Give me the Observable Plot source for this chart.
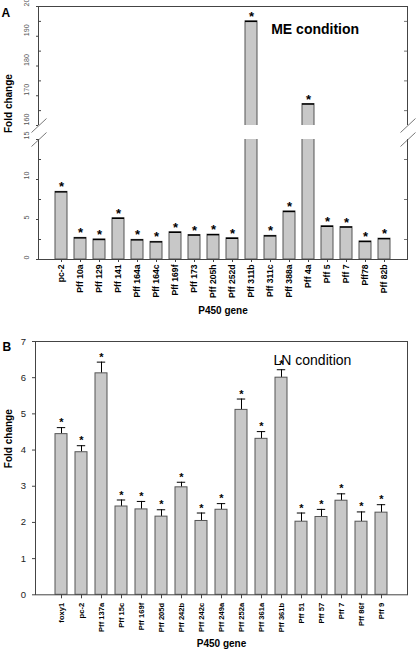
<!DOCTYPE html>
<html><head><meta charset="utf-8">
<script src="https://cdn.jsdelivr.net/npm/d3@7"></script>
<script src="https://cdn.jsdelivr.net/npm/@observablehq/plot@0.6"></script>
<style>
body{margin:0;background:#fff;}
#wrap{position:relative;width:416px;height:653px;overflow:hidden;background:#fff;}
#wrap svg{position:absolute;left:0;}
</style></head><body><div id="wrap"></div>
<script>
// ---------- Panel A data (ME condition) ----------
const genesA = ["pc-2","Pff 10a","Pff 129","Pff 141","Pff 164a","Pff 164c","Pff 169f","Pff 173","Pff 205h","Pff 252d","Pff 311b","Pff 311c","Pff 388a","Pff 4a","Pff 5","Pff 7","Pff78","Pff 82b"];
const foldA  = [8.45,2.7,2.5,5.15,2.45,2.2,3.4,3.05,3.1,2.65,195,2.95,6.0,167.2,4.15,4.05,2.25,2.6];
const majorTicksA = [0,5,10,15,160,170,180,190,200];
const minorTicksA = [2.5,7.5,12.5,165,175,185,195];
const breakA = [15,160];

// ---------- Panel B data (LN condition) ----------
const genesB = ["foxy1","pc-2","Pff 137a","Pff 15c","Pff 169f","Pff 205d","Pff 242b","Pff 242c","Pff 249a","Pff 252a","Pff 361a","Pff 361b","Pff 51","Pff 57","Pff 7","Pff 86f","Pff 9"];
const foldB  = [4.44,3.94,6.12,2.44,2.36,2.16,2.97,2.04,2.35,5.11,4.31,6.0,2.02,2.15,2.6,2.02,2.27];
const errTopB = [4.62,4.12,6.43,2.62,2.58,2.35,3.11,2.26,2.52,5.41,4.51,6.22,2.26,2.36,2.79,2.29,2.49];
const ticksB = [0,1,2,3,4,5,6,7];

const dataA = genesA.map((g,i)=>({gene:g, fold:foldA[i]}));
const dataB = genesB.map((g,i)=>({gene:g, fold:foldB[i], err:errTopB[i]}));

const font = "Liberation Sans, Arial, Helvetica, sans-serif";
const W = 416;
const barFill = "#c8c8c8", barStroke = "#555", axisCol = "#444";

// ---------- Panel A ----------
const hA = 330, mA = {l:38, r:9, t:6, b:71};
const fwA = W - mA.l - mA.r;
const plotA = Plot.plot({
  width: W, height: hA,
  marginLeft: mA.l, marginRight: mA.r, marginTop: mA.t, marginBottom: mA.b,
  style: {fontFamily: font, background: "white", overflow: "visible"},
  x: {domain: genesA, paddingInner: 0.38, paddingOuter: 0.19, insetLeft: 9.6, insetRight: 9, label: null},
  y: {type: "linear", domain: [0, 15, 160, 200], range: [hA - mA.b, 139, 125, mA.t], label: null},
  marks: [
    Plot.barY(dataA, {x: "gene", y: "fold", fill: barFill, stroke: barStroke, strokeWidth: 1}),
    Plot.tickY(dataA, {x: "gene", y: "fold", stroke: "#000", strokeWidth: 1.4}),
    Plot.frame({stroke: axisCol}),
    Plot.tickY(minorTicksA, {y: d => d, stroke: axisCol, insetRight: fwA - 3}),
    Plot.tickY(minorTicksA, {y: d => d, stroke: "#777", insetLeft: fwA - 3}),
    Plot.rect([breakA], {y1: d => d[0], y2: d => d[1], fill: "white", insetLeft: -6, insetRight: -6}),
    Plot.axisY(majorTicksA, {tickSize: 2, tickFormat: () => "", label: null, stroke: axisCol}),
    Plot.text(majorTicksA, {y: d => d, text: d => String(d), frameAnchor: "left", dx: -12, rotate: -90, fontSize: 7.1, fill: "#555"}),
    Plot.axisX({tickRotate: -90, tickSize: 3, tickPadding: 2, fontSize: 8.6, fontWeight: "bold", label: null, stroke: axisCol}),
    Plot.text(dataA, {x: "gene", y: "fold", text: () => "*", fontSize: 13, fontWeight: "bold", dy: -4.7}),
    Plot.text(["ME condition"], {text: d => d, frameAnchor: "top-left", dx: 232.7, dy: 17.5, textAnchor: "start", fontSize: 14, fontWeight: "bold"}),
    Plot.text(["A"], {text: d => d, frameAnchor: "top-left", dx: -37, dy: 2, textAnchor: "start", fontSize: 12, fontWeight: "bold"}),
    Plot.text(["Fold change"], {text: d => d, frameAnchor: "left", dx: -30, rotate: -90, fontSize: 10, fontWeight: "bold"}),
    Plot.text(["P450 gene"], {text: d => d, frameAnchor: "bottom", dy: 54, fontSize: 10, fontWeight: "bold"})
  ]
});

// axis-break diagonals, positioned through the y scale
(function(){
  const ys = plotA.scale("y");
  const yTop = ys.apply(breakA[1]), yBot = ys.apply(breakA[0]);
  const g = d3.select(plotA).append("g").attr("stroke", "#555").attr("stroke-width", 0.8);
  for (const x0 of [mA.l, W - mA.r]) {
    g.append("line").attr("x1", x0 - 6.5).attr("y1", yTop + 7.5).attr("x2", x0 + 8.5).attr("y2", yTop - 6.5);
    g.append("line").attr("x1", x0 - 6.5).attr("y1", yBot + 7.5).attr("x2", x0 + 8.5).attr("y2", yBot - 6.5);
  }
})();

// ---------- Panel B ----------
const hB = 323, mB = {l:35, r:9, t:11, b:58.7};
const plotB = Plot.plot({
  width: W, height: hB,
  marginLeft: mB.l, marginRight: mB.r, marginTop: mB.t, marginBottom: mB.b,
  style: {fontFamily: font, background: "white", overflow: "visible"},
  x: {domain: genesB, paddingInner: 0.385, paddingOuter: 0.19, insetLeft: 11, insetRight: 10, label: null},
  y: {domain: [0, 7], label: null},
  marks: [
    Plot.ruleX(dataB, {x: "gene", y1: "fold", y2: "err", stroke: "#000", strokeWidth: 1}),
    Plot.tickY(dataB, {x: "gene", y: "err", stroke: "#000", strokeWidth: 1, insetLeft: 1.8, insetRight: 1.8}),
    Plot.barY(dataB, {x: "gene", y: "fold", fill: barFill, stroke: barStroke, strokeWidth: 1}),
    Plot.frame({stroke: axisCol}),
    Plot.axisY(ticksB, {tickSize: 3, tickPadding: 6.5, fontSize: 9.5, fill: "#222", label: null, stroke: axisCol}),
    Plot.axisX({tickRotate: -90, tickSize: 4, tickPadding: 4, fontSize: 7.6, fontWeight: "bold", label: null, stroke: axisCol}),
    Plot.text(dataB, {x: "gene", y: "err", text: () => "*", fontSize: 11, fontWeight: "bold", dy: -5}),
    Plot.text(["LN condition"], {text: d => d, frameAnchor: "top-left", dx: 238, dy: 13.8, textAnchor: "start", fontSize: 14}),
    Plot.text(["B"], {text: d => d, frameAnchor: "top-left", dx: -33, dy: 0.5, textAnchor: "start", fontSize: 12, fontWeight: "bold"}),
    Plot.text(["Fold change"], {text: d => d, frameAnchor: "left", dx: -27, rotate: -90, fontSize: 10, fontWeight: "bold"}),
    Plot.text(["P450 gene"], {text: d => d, frameAnchor: "bottom", dy: 52.4, fontSize: 10, fontWeight: "bold"})
  ]
});

const wrap = document.getElementById("wrap");
plotA.style.top = "0px";
plotB.style.top = "330px";
wrap.appendChild(plotA);
wrap.appendChild(plotB);
</script>
</body></html>
